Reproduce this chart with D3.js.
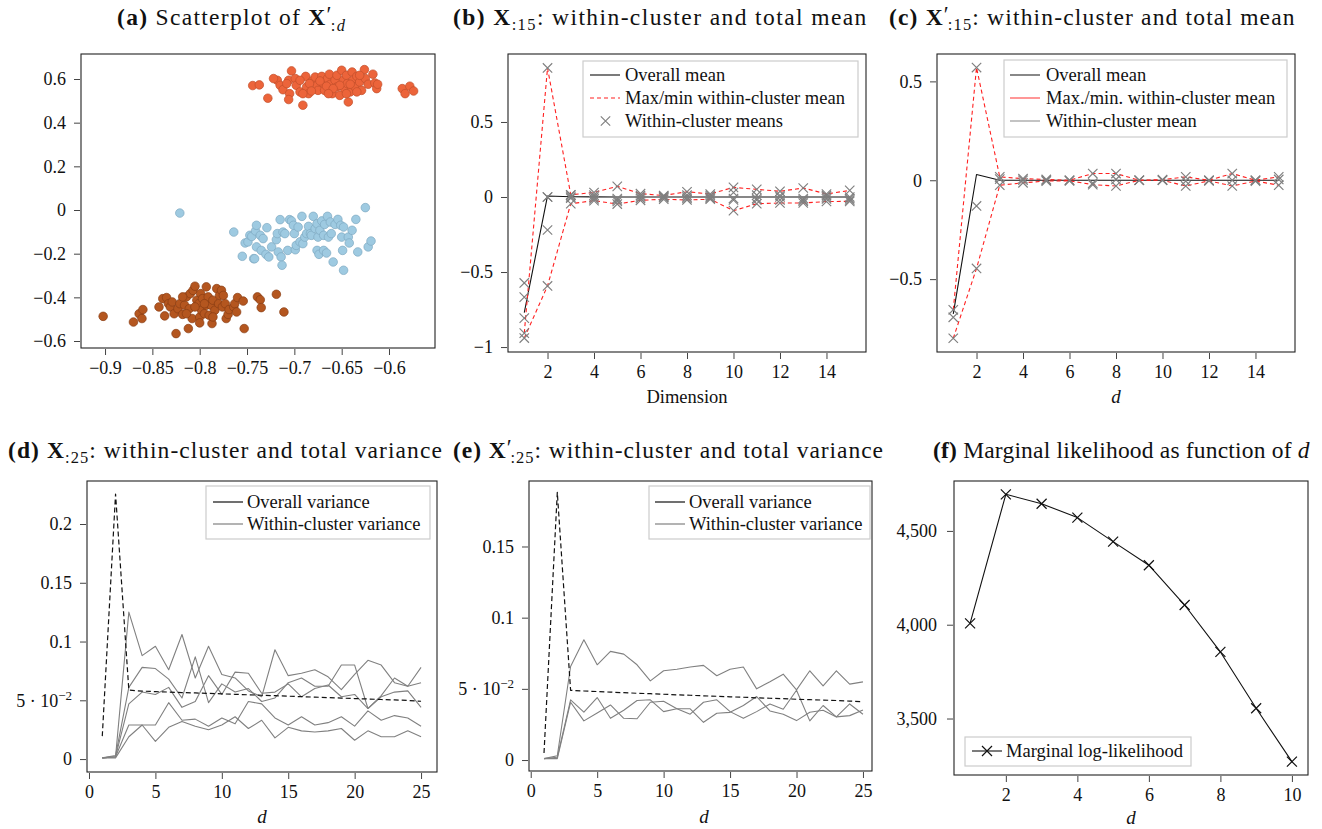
<!DOCTYPE html>
<html><head><meta charset="utf-8">
<script src="https://cdn.jsdelivr.net/npm/d3@7"></script>
<style>
body{margin:0;background:#fff;}
svg text{font-family:"Liberation Serif","Times New Roman",serif;fill:#111;}
</style></head><body>
<svg id="chart" width="1322" height="829"></svg>
<script>
// ---------------- DATA ----------------
// (a) scatter points: [x, y]
const orangePts=[[-0.744,0.570],[-0.737,0.573],[-0.728,0.512],[-0.718,0.594],[-0.715,0.571],[-0.712,0.551],[-0.706,0.594],[-0.703,0.637],[-0.705,0.533],[-0.706,0.506],[-0.699,0.602],[-0.698,0.571],[-0.694,0.541],[-0.691,0.480],[-0.688,0.612],[-0.687,0.564],[-0.685,0.533],[-0.681,0.591],[-0.678,0.609],[-0.676,0.571],[-0.675,0.548],[-0.671,0.612],[-0.670,0.582],[-0.668,0.548],[-0.665,0.602],[-0.663,0.622],[-0.662,0.576],[-0.660,0.533],[-0.657,0.594],[-0.655,0.617],[-0.655,0.564],[-0.652,0.525],[-0.650,0.640],[-0.648,0.594],[-0.647,0.556],[-0.645,0.617],[-0.644,0.579],[-0.641,0.541],[-0.643,0.495],[-0.639,0.632],[-0.638,0.594],[-0.636,0.564],[-0.634,0.612],[-0.631,0.586],[-0.629,0.548],[-0.626,0.643],[-0.625,0.602],[-0.622,0.576],[-0.617,0.622],[-0.615,0.582],[-0.613,0.556],[-0.612,0.576],[-0.586,0.556],[-0.583,0.533],[-0.578,0.567],[-0.574,0.545],[-0.694,0.594],[-0.684,0.579],[-0.666,0.567],[-0.673,0.591],[-0.652,0.571],[-0.641,0.576],[-0.634,0.541],[-0.659,0.556],[-0.682,0.545],[-0.691,0.533],[-0.645,0.533],[-0.631,0.617],[-0.664,0.533],[-0.708,0.579],[-0.722,0.602]];
const bluePts=[[-0.821,-0.014],[-0.764,-0.101],[-0.755,-0.212],[-0.752,-0.151],[-0.749,-0.146],[-0.747,-0.116],[-0.745,-0.121],[-0.743,-0.223],[-0.742,-0.223],[-0.741,-0.096],[-0.740,-0.070],[-0.740,-0.169],[-0.736,-0.116],[-0.735,-0.185],[-0.733,-0.131],[-0.730,-0.203],[-0.729,-0.081],[-0.727,-0.215],[-0.724,-0.169],[-0.719,-0.136],[-0.718,-0.108],[-0.717,-0.192],[-0.715,-0.044],[-0.714,-0.215],[-0.713,-0.253],[-0.712,-0.101],[-0.710,-0.108],[-0.707,-0.185],[-0.705,-0.044],[-0.703,-0.050],[-0.701,-0.070],[-0.700,-0.108],[-0.699,-0.182],[-0.698,-0.162],[-0.696,-0.078],[-0.694,-0.146],[-0.692,-0.029],[-0.691,-0.154],[-0.689,-0.124],[-0.687,-0.108],[-0.685,-0.075],[-0.683,-0.108],[-0.682,-0.116],[-0.680,-0.029],[-0.678,-0.085],[-0.676,-0.063],[-0.676,-0.185],[-0.675,-0.124],[-0.674,-0.203],[-0.673,-0.093],[-0.671,-0.050],[-0.669,-0.116],[-0.669,-0.185],[-0.668,-0.066],[-0.666,-0.197],[-0.665,-0.029],[-0.664,-0.124],[-0.662,-0.055],[-0.661,-0.108],[-0.659,-0.238],[-0.657,-0.066],[-0.654,-0.043],[-0.651,-0.070],[-0.650,-0.124],[-0.649,-0.185],[-0.648,-0.276],[-0.648,-0.078],[-0.643,-0.124],[-0.642,-0.151],[-0.639,-0.093],[-0.635,-0.043],[-0.633,-0.192],[-0.625,0.011],[-0.622,-0.169],[-0.619,-0.142]];
const brownPts=[[-0.902,-0.487],[-0.870,-0.513],[-0.864,-0.475],[-0.861,-0.497],[-0.860,-0.456],[-0.843,-0.444],[-0.839,-0.406],[-0.837,-0.485],[-0.835,-0.401],[-0.833,-0.429],[-0.831,-0.444],[-0.829,-0.421],[-0.827,-0.475],[-0.825,-0.566],[-0.823,-0.452],[-0.821,-0.429],[-0.818,-0.478],[-0.816,-0.436],[-0.814,-0.398],[-0.812,-0.543],[-0.811,-0.452],[-0.810,-0.383],[-0.808,-0.497],[-0.807,-0.368],[-0.805,-0.349],[-0.803,-0.413],[-0.801,-0.429],[-0.800,-0.490],[-0.800,-0.517],[-0.799,-0.383],[-0.798,-0.459],[-0.797,-0.406],[-0.795,-0.475],[-0.793,-0.352],[-0.793,-0.436],[-0.791,-0.398],[-0.790,-0.482],[-0.788,-0.436],[-0.787,-0.520],[-0.786,-0.413],[-0.784,-0.459],[-0.782,-0.360],[-0.780,-0.429],[-0.779,-0.391],[-0.777,-0.368],[-0.776,-0.444],[-0.775,-0.391],[-0.773,-0.429],[-0.772,-0.497],[-0.770,-0.478],[-0.769,-0.456],[-0.764,-0.444],[-0.763,-0.429],[-0.761,-0.467],[-0.760,-0.401],[-0.754,-0.417],[-0.753,-0.543],[-0.739,-0.398],[-0.736,-0.411],[-0.735,-0.447],[-0.719,-0.386],[-0.711,-0.467],[-0.805,-0.444],[-0.814,-0.475],[-0.786,-0.490],[-0.795,-0.429],[-0.818,-0.398]];
const aXTicks=[-0.9,-0.85,-0.8,-0.75,-0.7,-0.65,-0.6];
const aYTicks=[-0.6,-0.4,-0.2,0,0.2,0.4,0.6];

// (b) means of X_{:15}
const dims15=[1,2,3,4,5,6,7,8,9,10,11,12,13,14,15];
const bOverall=[-0.77,0.007,0.002,0.001,0,0,0,0,0,0,0,0,0,0,0];
const bMax=[-0.907,0.86,0.015,0.03,0.071,0.022,0.01,0.035,0.02,0.064,0.051,0.038,0.06,0.02,0.044];
const bMin=[-0.94,-0.593,-0.045,-0.024,-0.047,-0.022,-0.015,-0.02,-0.015,-0.091,-0.045,-0.04,-0.04,-0.03,-0.029];
const bC3=[-0.573,0.0,0.012,0.012,-0.01,0.01,0.005,0.012,0.01,0.03,0.012,0.01,-0.01,0.01,0.0];
const bC4=[-0.667,-0.22,-0.008,0.0,-0.02,0.0,-0.005,0.0,0.0,-0.01,-0.01,0.0,-0.02,0.0,-0.01];
const bC5=[-0.807,0.0,0.0,-0.012,-0.03,-0.01,0.0,-0.01,-0.008,-0.02,-0.02,-0.02,-0.028,-0.012,-0.02];
const bXTicks=[2,4,6,8,10,12,14];
const bYTicks=[-1,-0.5,0,0.5];

// (c) means of X'_{:15}
const cOverall=[-0.676,0.029,0,0,0,0,0,0,0,0,0,0,0,0,0];
const cOrange=[-0.655,0.57,0.017,0.008,0.004,0.0,0.034,0.034,0.0,0.003,0.017,0.0,0.034,0.0,0.017];
const cBrown=[-0.799,-0.446,-0.025,-0.013,-0.004,-0.003,-0.022,-0.029,0.0,0.0,-0.029,-0.003,-0.029,-0.004,-0.025];
const cBlue=[-0.693,-0.13,0.006,0.0,0.0,0.0,-0.015,0.004,0.0,0.0,-0.004,0.0,0.0,0.0,0.004];
const cXTicks=[2,4,6,8,10,12,14];
const cYTicks=[-0.5,0,0.5];

// (d) variances of X_{:25}
const dims25=[1,2,3,4,5,6,7,8,9,10,11,12,13,14,15,16,17,18,19,20,21,22,23,24,25];
const dOverall=[0.0195,0.2255,0.0587,0.0578,0.0574,0.057,0.0566,0.0563,0.0559,0.0555,0.0551,0.0547,0.0543,0.0539,0.0535,0.0531,0.0527,0.0523,0.0519,0.0515,0.0511,0.0507,0.0503,0.0499,0.0492];
const dW1=[0.001,0.002,0.125,0.088,0.096,0.076,0.106,0.069,0.096,0.072,0.069,0.058,0.053,0.093,0.071,0.073,0.076,0.070,0.059,0.072,0.084,0.080,0.065,0.062,0.065];
const dW2=[0.001,0.003,0.061,0.078,0.077,0.068,0.052,0.087,0.048,0.064,0.057,0.060,0.049,0.052,0.065,0.069,0.062,0.062,0.080,0.080,0.043,0.054,0.069,0.062,0.078];
const dW3=[0.001,0.002,0.047,0.057,0.055,0.061,0.044,0.049,0.071,0.055,0.074,0.073,0.056,0.057,0.064,0.053,0.060,0.063,0.053,0.055,0.043,0.053,0.057,0.058,0.044];
const dW4=[0.001,0.002,0.029,0.029,0.029,0.048,0.033,0.034,0.028,0.035,0.030,0.049,0.047,0.035,0.029,0.036,0.029,0.031,0.036,0.028,0.041,0.033,0.037,0.035,0.028];
const dW5=[0.001,0.001,0.019,0.029,0.015,0.027,0.032,0.028,0.025,0.029,0.036,0.026,0.033,0.018,0.027,0.024,0.023,0.024,0.026,0.016,0.024,0.019,0.019,0.024,0.019];
const dXTicks=[0,5,10,15,20,25];
const dYTicks=[0,0.05,0.1,0.15,0.2];

// (e) variances of X'_{:25}
const eOverall=[0.005,0.188,0.049,0.0485,0.0481,0.0477,0.0473,0.0469,0.0466,0.0462,0.0458,0.0455,0.0451,0.0448,0.0444,0.0441,0.0437,0.0434,0.0431,0.0427,0.0424,0.0421,0.0418,0.0414,0.041];
const eW1=[0.001,0.003,0.0657,0.0845,0.0669,0.0763,0.0744,0.0669,0.0556,0.0627,0.0638,0.0653,0.0665,0.0592,0.0638,0.0653,0.05,0.055,0.0603,0.0493,0.0627,0.0521,0.0627,0.0533,0.0549];
const eW2=[0.001,0.002,0.0423,0.0336,0.0439,0.0293,0.035,0.0418,0.0423,0.034,0.036,0.036,0.0265,0.0329,0.0335,0.0383,0.0446,0.0345,0.0322,0.0277,0.0336,0.035,0.0303,0.0394,0.0322];
const eW3=[0.001,0.001,0.0406,0.0275,0.033,0.0387,0.0293,0.029,0.0406,0.0413,0.036,0.0322,0.0406,0.0423,0.034,0.0293,0.034,0.0394,0.0357,0.049,0.0275,0.0383,0.0303,0.0312,0.0352];
const eXTicks=[0,5,10,15,20,25];
const eYTicks=[0,0.05,0.1,0.15];

// (f) marginal log-likelihood
const fDims=[1,2,3,4,5,6,7,8,9,10];
const fVals=[4007,4695,4645,4571,4443,4317,4105,3855,3555,3270];
const fXTicks=[2,4,6,8,10];
const fYTicks=[3500,4000,4500];

// ---------------- DRAWING ----------------
const FONT='"Liberation Serif","Times New Roman",serif';
const svg=d3.select("#chart");
function numFmt(v){const s=String(+Math.abs(v).toFixed(4));return (v<0?"\u2212":"")+s;}
const commaFmt=d3.format(",");

function makePanel(o){
  const x=d3.scaleLinear().domain(o.xdom).range([o.left,o.right]);
  const y=d3.scaleLinear().domain(o.ydom).range([o.bottom,o.top]);
  const g=svg.append("g");
  const ax=g.append("g").attr("transform",`translate(0,${o.bottom+1})`)
    .call(d3.axisBottom(x).tickValues(o.xticks).tickSize(6).tickPadding(6).tickFormat(o.xfmt||numFmt));
  const ay=g.append("g").attr("transform",`translate(${o.left-1},0)`)
    .call(d3.axisLeft(y).tickValues(o.yticks).tickSize(6).tickPadding(o.ypad||8).tickFormat(o.yfmt||numFmt));
  [ax,ay].forEach(a=>{
    a.attr("font-family",FONT).attr("font-size",18);
    a.select(".domain").remove();
    a.selectAll("line").attr("stroke","#444").attr("stroke-width",1);
    a.selectAll("text").attr("fill","#111");
  });
  g.append("rect").attr("x",o.left).attr("y",o.top).attr("width",o.right-o.left).attr("height",o.bottom-o.top)
    .attr("fill","none").attr("stroke","#222").attr("stroke-width",1.1);
  return {g,x,y,ax,ay};
}
function xMark(sel,cx,cy,s,color,w){
  sel.append("path").attr("d",`M${cx-s},${cy-s}L${cx+s},${cy+s}M${cx-s},${cy+s}L${cx+s},${cy-s}`)
    .attr("stroke",color).attr("stroke-width",w).attr("fill","none");
}
function drawLine(p,xs,ys,color,w,dash){
  const line=d3.line().x((d,i)=>p.x(xs[i])).y(d=>p.y(d));
  p.g.append("path").datum(ys).attr("d",line).attr("fill","none").attr("stroke",color)
    .attr("stroke-width",w).attr("stroke-dasharray",dash||null).attr("stroke-linejoin","round");
}
function legendBox(g,x,y,w,h){
  g.append("rect").attr("x",x).attr("y",y).attr("width",w).attr("height",h)
    .attr("fill","#fff").attr("stroke","#ccc").attr("stroke-width",1.2);
}
function legendText(g,x,y,t){
  return g.append("text").attr("x",x).attr("y",y+6).attr("font-size",18.5).text(t);
}
function supFix(ay,val,base,sup){
  ay.selectAll(".tick text").filter(d=>d===val).each(function(){
    const t=d3.select(this).text(null);
    t.append("tspan").text(base);
    t.append("tspan").attr("dy",-7).attr("font-size",13).text(sup);
  });
}

// ---- Panel (a)
const pa=makePanel({left:81,right:435,top:54,bottom:348,xdom:[-0.9254,-0.5514],ydom:[-0.632,0.7145],xticks:aXTicks,yticks:aYTicks});
[[brownPts,"#b4561f","#8a3e14"],[bluePts,"#9ecae1","#7ea9c2"],[orangePts,"#ec643a","#c24f2b"]].forEach(([pts,f,s])=>{
  pa.g.append("g").selectAll("circle").data(pts).join("circle")
    .attr("cx",d=>pa.x(d[0])).attr("cy",d=>pa.y(d[1])).attr("r",4.3)
    .attr("fill",f).attr("stroke",s).attr("stroke-width",0.7);
});

// ---- Panel (b)
const pb=makePanel({left:508,right:866,top:54,bottom:352,xdom:[0.3,15.7],ydom:[-1.033,0.953],xticks:bXTicks,yticks:bYTicks});
drawLine(pb,dims15,bOverall,"#111",1.1);
drawLine(pb,dims15,bMax,"#ff2020",1.1,"4,3");
drawLine(pb,dims15,bMin,"#ff2020",1.1,"4,3");
[bMax,bMin,bC3,bC4,bC5].forEach(arr=>arr.forEach((v,i)=>xMark(pb.g,pb.x(dims15[i]),pb.y(v),4.7,"#7f7f7f",1.15)));
legendBox(pb.g,583,61,275,76);
pb.g.append("line").attr("x1",590).attr("x2",620).attr("y1",75).attr("y2",75).attr("stroke","#333").attr("stroke-width",1.3);
pb.g.append("line").attr("x1",590).attr("x2",620).attr("y1",98).attr("y2",98).attr("stroke","#ff2020").attr("stroke-width",1.1).attr("stroke-dasharray","4,3");
xMark(pb.g,605.5,121,4.7,"#7f7f7f",1.15);
legendText(pb.g,625,75,"Overall mean");
legendText(pb.g,625,98,"Max/min within-cluster mean");
legendText(pb.g,625,121,"Within-cluster means");
pb.g.append("text").attr("x",687).attr("y",403).attr("text-anchor","middle").attr("font-size",18.5).text("Dimension");

// ---- Panel (c)
const pc=makePanel({left:937,right:1295,top:54,bottom:352,xdom:[0.3,15.7],ydom:[-0.8685,0.6385],xticks:cXTicks,yticks:cYTicks});
drawLine(pc,dims15,cOverall,"#111",1.1);
drawLine(pc,dims15,cOrange,"#ff2020",1.1,"4,3");
drawLine(pc,dims15,cBrown,"#ff2020",1.1,"4,3");
[cOrange,cBrown,cBlue].forEach(arr=>arr.forEach((v,i)=>xMark(pc.g,pc.x(dims15[i]),pc.y(v),4.7,"#7f7f7f",1.15)));
legendBox(pc.g,1004,60,283,77);
[["#555",75],["#ff6a6a",98],["#aaa",121]].forEach(([c,yy])=>pc.g.append("line").attr("x1",1010).attr("x2",1040).attr("y1",yy).attr("y2",yy).attr("stroke",c).attr("stroke-width",1.4));
legendText(pc.g,1046,75,"Overall mean");
legendText(pc.g,1046,98,"Max./min. within-cluster mean");
legendText(pc.g,1046,121,"Within-cluster mean");
pc.g.append("text").attr("x",1116).attr("y",403).attr("text-anchor","middle").attr("font-size",19).attr("font-style","italic").text("d");

// ---- Panel (d)
const pd=makePanel({left:87,right:437,top:481,bottom:772,xdom:[-0.15,26.2],ydom:[-0.011,0.2366],xticks:dXTicks,yticks:dYTicks});
supFix(pd.ay,0.05,"5 \u00b7 10","\u22122");
[dW1,dW2,dW3,dW4,dW5].forEach(arr=>drawLine(pd,dims25,arr,"#808080",1.1));
drawLine(pd,dims25,dOverall,"#111",1.2,"5,3");
legendBox(pd.g,206,486,224,53);
pd.g.append("line").attr("x1",213).attr("x2",243).attr("y1",502).attr("y2",502).attr("stroke","#111").attr("stroke-width",1.2);
pd.g.append("line").attr("x1",213).attr("x2",243).attr("y1",524).attr("y2",524).attr("stroke","#808080").attr("stroke-width",1.2);
legendText(pd.g,247,502,"Overall variance");
legendText(pd.g,247,524,"Within-cluster variance");
pd.g.append("text").attr("x",262).attr("y",823).attr("text-anchor","middle").attr("font-size",19).attr("font-style","italic").text("d");

// ---- Panel (e)
const pe=makePanel({left:529,right:872,top:481,bottom:771,xdom:[-0.13,25.68],ydom:[-0.0077,0.196],xticks:eXTicks,yticks:eYTicks});
supFix(pe.ay,0.05,"5 \u00b7 10","\u22122");
[eW1,eW2,eW3].forEach(arr=>drawLine(pe,dims25,arr,"#808080",1.1));
drawLine(pe,dims25,eOverall,"#111",1.2,"5,3");
legendBox(pe.g,649,486,221,53);
pe.g.append("line").attr("x1",655).attr("x2",685).attr("y1",502).attr("y2",502).attr("stroke","#111").attr("stroke-width",1.2);
pe.g.append("line").attr("x1",655).attr("x2",685).attr("y1",524).attr("y2",524).attr("stroke","#808080").attr("stroke-width",1.2);
legendText(pe.g,689,502,"Overall variance");
legendText(pe.g,689,524,"Within-cluster variance");
pe.g.append("text").attr("x",704).attr("y",823).attr("text-anchor","middle").attr("font-size",19).attr("font-style","italic").text("d");

// ---- Panel (f)
const pf=makePanel({left:954,right:1308,top:481,bottom:775,xdom:[0.55,10.45],ydom:[3199,4766],xticks:fXTicks,yticks:fYTicks,yfmt:commaFmt,ypad:10});
drawLine(pf,fDims,fVals,"#111",1.1);
fVals.forEach((v,i)=>xMark(pf.g,pf.x(fDims[i]),pf.y(v),5,"#111",1.2));
legendBox(pf.g,965,737,226,29);
pf.g.append("line").attr("x1",972).attr("x2",1002).attr("y1",751).attr("y2",751).attr("stroke","#111").attr("stroke-width",1.1);
xMark(pf.g,987,751,5,"#111",1.2);
legendText(pf.g,1006,751,"Marginal log-likelihood");
pf.g.append("text").attr("x",1131).attr("y",824).attr("text-anchor","middle").attr("font-size",19).attr("font-style","italic").text("d");

// ---- Titles (font grown to fit the measured width, remainder as letter spacing)
function title(x,y,target,build){
  const t=svg.append("text").attr("x",x).attr("y",y).attr("font-size",21);
  build(t);
  let w=t.node().getBBox().width;
  const fs=Math.min(23.5,21*target/w);
  t.attr("font-size",fs);
  t.selectAll("tspan.small").attr("font-size",fs*0.7);
  t.selectAll("tspan.prime").attr("font-size",fs*0.95);
  w=t.node().getBBox().width;
  const k=t.node().getNumberOfChars();
  t.attr("letter-spacing",Math.max(0,(target-w)/k).toFixed(3));
}
function tb(t,s){t.append("tspan").attr("font-weight","bold").text(s);}
function tr(t,s,o){const e=t.append("tspan").text(s);if(o)Object.entries(o).forEach(([k,v])=>e.attr(k,v));return e;}
function ts(t,s,o){const e=tr(t,s,o);e.attr("class","small").attr("font-size",15);return e;}
function tp(t){const e=tr(t,"\u2032",{dy:-3});e.attr("class","prime");return e;}
title(117,25,230,t=>{tb(t,"(a)");tr(t," Scatterplot of ");tb(t,"X");tp(t);ts(t,":",{dx:-2,dy:9});ts(t,"d",{"font-style":"italic"});});
title(453,25,415,t=>{tb(t,"(b) X");ts(t,":15",{dy:5});tr(t,": within-cluster and total mean",{dy:-5});});
title(889,25,407,t=>{tb(t,"(c) X");tp(t);ts(t,":15",{dx:-2,dy:8});tr(t,": within-cluster and total mean",{dy:-5});});
title(8,458,435,t=>{tb(t,"(d) X");ts(t,":25",{dy:5});tr(t,": within-cluster and total variance",{dy:-5});});
title(453,458,431,t=>{tb(t,"(e) X");tp(t);ts(t,":25",{dx:-2,dy:8});tr(t,": within-cluster and total variance",{dy:-5});});
title(933,458,377,t=>{tb(t,"(f)");tr(t," Marginal likelihood as function of ");tr(t,"d",{"font-style":"italic"});});
</script>
</body></html>
